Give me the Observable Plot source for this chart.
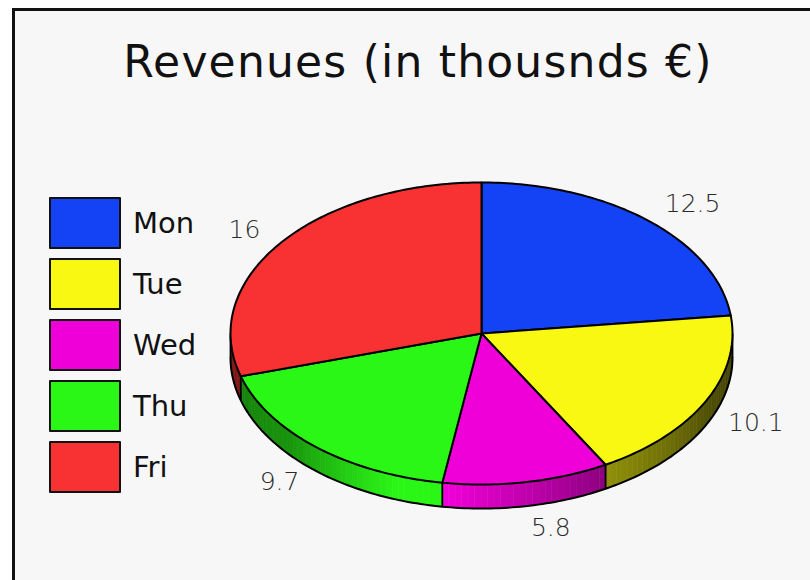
<!DOCTYPE html>
<html><head><meta charset="utf-8">
<script src="https://cdn.jsdelivr.net/npm/d3@7"></script>
<script src="https://cdn.jsdelivr.net/npm/@observablehq/plot@0.6"></script>
<style>
html,body{margin:0;padding:0;background:#fff;overflow:hidden;width:810px;height:580px;}
#frame{position:absolute;left:12px;top:8px;width:900px;height:700px;border-left:3px solid #111;border-top:3px solid #111;background:#f7f7f7;}
#title{position:absolute;left:0;width:836px;top:37px;text-align:center;font-family:"DejaVu Sans";font-size:44px;letter-spacing:1.2px;color:#111;line-height:50px;white-space:nowrap;}
#legend{position:absolute;left:49px;top:197px;font-family:"DejaVu Sans";}
.item{display:flex;align-items:center;height:52px;margin-bottom:9px;}
.sw{width:68px;height:48px;border:2px solid #111;border-radius:1px;}
.lab{margin-left:12px;font-size:29px;color:#111;}
#chart{position:absolute;left:200px;top:160px;}
</style></head><body>
<div id="frame"></div>
<div id="title">Revenues (in thousnds €)</div>
<div id="legend"></div>
<div id="chart"></div>
<script>
// data
const days = ["Mon", "Tue", "Wed", "Thu", "Fri"];
const revenues = [12.5, 10.1, 5.8, 9.7, 16];
const colors = ["#1443f5", "#f8f812", "#f000d8", "#2af716", "#f83232"];

// layout (pixels inside the chart svg)
const W = 600, H = 380, cx = 281, cy = 173, rx = 251, ry = 151;
const DEPTH = 24 / ry;
const deg = Math.PI / 180;

const arcs = d3.pie().sort(null)(revenues);

// top faces
const topPts = [];
arcs.forEach((a, i) => {
  topPts.push({id: i, x: 0, y: 0, c: colors[i]});
  const n = Math.max(2, Math.ceil((a.endAngle - a.startAngle) / deg));
  for (let k = 0; k <= n; k++) {
    const t = a.startAngle + (a.endAngle - a.startAngle) * k / n;
    topPts.push({id: i, x: Math.sin(t), y: Math.cos(t), c: colors[i]});
  }
});

// side shading
const shade = d3.scaleLinear().domain([90, 115, 150, 188, 200, 230, 270]).range([0.25, 0.32, 0.58, 1, 1, 0.6, 0.48]).clamp(true);
function shadeColor(col, f) {
  const c = d3.rgb(col);
  return d3.rgb(c.r * f, c.g * f, c.b * f).formatHex();
}
const sidePts = [];
const edges = [];
let q = 0;
arcs.forEach((a, i) => {
  const s = Math.max(a.startAngle, Math.PI / 2), e = Math.min(a.endAngle, 3 * Math.PI / 2);
  if (e <= s) return;
  const n = Math.ceil((e - s) / (1.5 * deg));
  for (let k = 0; k < n; k++) {
    const t1 = s + (e - s) * k / n, t2 = s + (e - s) * (k + 1) / n;
    const c = shadeColor(colors[i], shade((t1 + t2) / 2 / deg));
    sidePts.push({id: q, x: Math.sin(t1), y: Math.cos(t1), c});
    sidePts.push({id: q, x: Math.sin(t2), y: Math.cos(t2), c});
    sidePts.push({id: q, x: Math.sin(t2), y: Math.cos(t2) - DEPTH, c});
    sidePts.push({id: q, x: Math.sin(t1), y: Math.cos(t1) - DEPTH, c});
    q++;
  }
  edges.push(s, e);
});
const edgeSet = Array.from(new Set(edges.map(v => +v.toFixed(6))));
const vlines = edgeSet.map(t => ({x: Math.sin(t), y1: Math.cos(t), y2: Math.cos(t) - DEPTH}));
const rim = d3.range(0, 181).map(k => {
  const t = Math.PI / 2 + k * deg;
  return {x: Math.sin(t), y: Math.cos(t) - DEPTH};
});

// value labels
const labels = arcs.map((a, i) => {
  const m = (a.startAngle + a.endAngle) / 2;
  const c = Math.cos(m);
  return {
    x: 1.10 * Math.sin(m),
    y: c * (1.15 + (c < 0 ? DEPTH : 0)),
    text: String(revenues[i]),
    right: Math.sin(m) >= 0
  };
});

const textStyle = {fontSize: 25, fill: "#2a2a2a", fontWeight: 200, fontFamily: "DejaVu Sans"};

const chart = Plot.plot({
  width: W, height: H, margin: 0,
  x: {domain: [-1, 1], range: [cx - rx, cx + rx], axis: null},
  y: {domain: [-1, 1], range: [cy + ry, cy - ry], axis: null},
  color: {type: "identity"},
  style: {background: "transparent", overflow: "visible"},
  marks: [
    Plot.line(sidePts, {x: "x", y: "y", z: "id", fill: "c", stroke: "c", strokeWidth: 0.7, curve: "linear-closed"}),
    Plot.line(rim, {x: "x", y: "y", stroke: "#000", strokeWidth: 2}),
    Plot.link(vlines, {x1: "x", x2: "x", y1: "y1", y2: "y2", stroke: "#000", strokeWidth: 1.8}),
    Plot.line(topPts, {x: "x", y: "y", z: "id", fill: "c", stroke: "#000", strokeWidth: 2, strokeLinejoin: "round", curve: "linear-closed"}),
    Plot.text(labels.filter(d => d.right), {x: "x", y: "y", text: "text", textAnchor: "start", ...textStyle}),
    Plot.text(labels.filter(d => !d.right), {x: "x", y: "y", text: "text", textAnchor: "end", ...textStyle})
  ]
});
document.getElementById("chart").appendChild(chart);

// legend
const legend = document.getElementById("legend");
days.forEach((d, i) => {
  const item = document.createElement("div");
  item.className = "item";
  const sw = document.createElement("div");
  sw.className = "sw";
  sw.style.background = colors[i];
  const lab = document.createElement("div");
  lab.className = "lab";
  lab.textContent = d;
  item.appendChild(sw);
  item.appendChild(lab);
  legend.appendChild(item);
});
</script>
</body></html>
